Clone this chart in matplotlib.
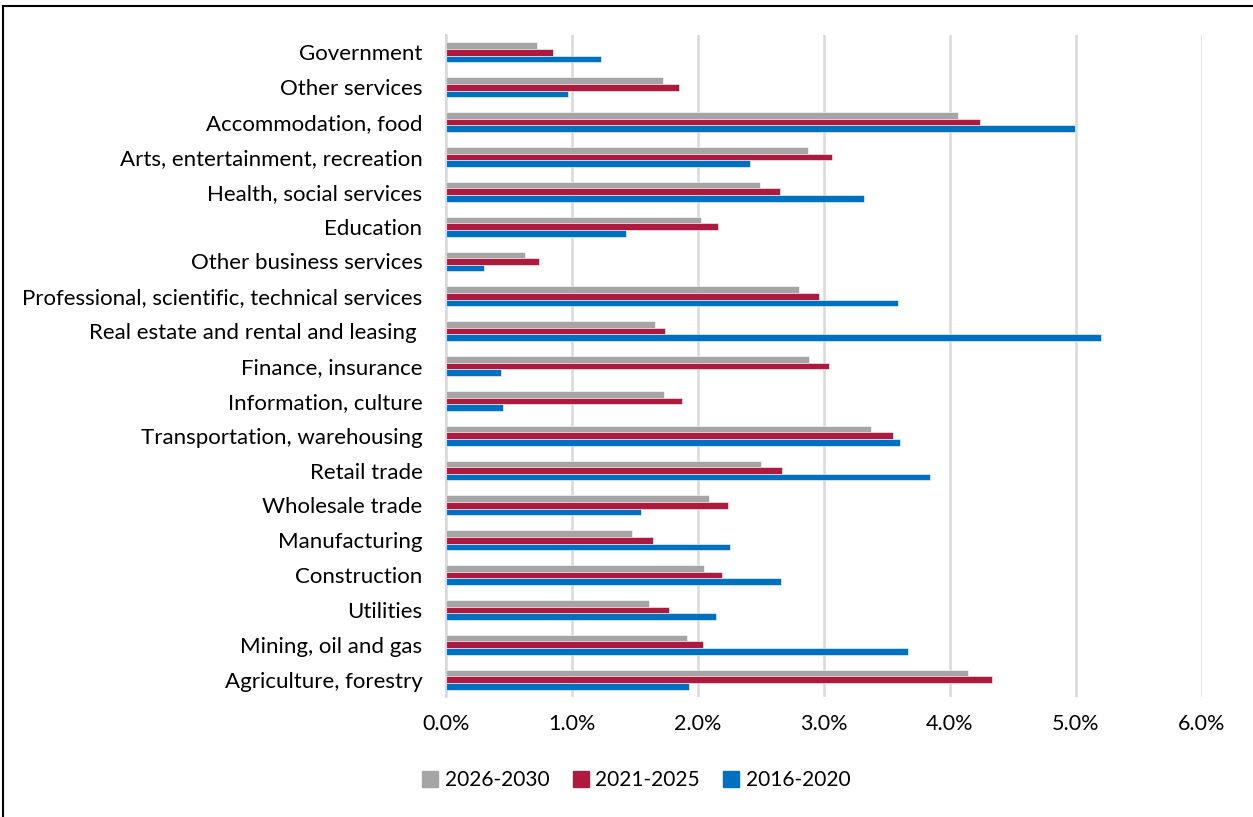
import numpy as np
import matplotlib
matplotlib.use('Agg')
import matplotlib.pyplot as plt
from matplotlib.lines import Line2D
from matplotlib.ticker import FuncFormatter

plt.rcParams['font.family'] = ['Lato', 'DejaVu Sans']

# industries, top of chart first
industries = ['Government', 'Other services', 'Accommodation, food',
              'Arts, entertainment, recreation', 'Health, social services',
              'Education', 'Other business services',
              'Professional, scientific, technical services',
              'Real estate and rental and leasing ', 'Finance, insurance',
              'Information, culture', 'Transportation, warehousing',
              'Retail trade', 'Wholesale trade', 'Manufacturing',
              'Construction', 'Utilities', 'Mining, oil and gas',
              'Agriculture, forestry']

# average annual growth, percent
g2026_2030 = [0.72, 1.72, 4.06, 2.87, 2.49, 2.02, 0.63, 2.80, 1.66, 2.88,
              1.73, 3.37, 2.50, 2.09, 1.48, 2.05, 1.61, 1.91, 4.14]
g2021_2025 = [0.85, 1.85, 4.24, 3.06, 2.65, 2.16, 0.74, 2.96, 1.74, 3.04,
              1.87, 3.55, 2.67, 2.24, 1.64, 2.19, 1.77, 2.04, 4.33]
g2016_2020 = [1.23, 0.97, 4.99, 2.41, 3.32, 1.43, 0.30, 3.59, 5.20, 0.44,
              0.45, 3.60, 3.84, 1.55, 2.25, 2.66, 2.14, 3.67, 1.93]

c_gray = '#a5a5a5'
c_red = '#ad1a3e'
c_blue = '#0070c0'

fig = plt.figure(figsize=(12.53, 8.17), dpi=100)
ax = fig.add_axes([446/1253, 1-697/817, 756/1253, 662/817])

n = len(industries)
y = np.arange(n)[::-1]
h = 0.19

ax.barh(y + h, g2026_2030, height=h, color=c_gray, edgecolor='white', linewidth=0.4, zorder=3)
ax.barh(y, g2021_2025, height=h, color=c_red, edgecolor='white', linewidth=0.4, zorder=3)
ax.barh(y - h, g2016_2020, height=h, color=c_blue, edgecolor='white', linewidth=0.4, zorder=3)

ax.set_xlim(0, 6)
ax.set_ylim(-0.5, n - 0.5)
ax.set_xticks(np.arange(0, 7, 1))
ax.xaxis.set_major_formatter(FuncFormatter(lambda v, p: f'{v:.1f}%'))
ax.set_yticks(y)
ax.set_yticklabels(industries)
ax.tick_params(axis='both', length=0, labelsize=15.5, colors='black')
ax.tick_params(axis='y', labelsize=16, pad=17)
ax.tick_params(axis='x', pad=12)

ax.grid(axis='x', color='#d9d9d9', linewidth=1.8, zorder=0)
for s in ['top', 'right', 'bottom']:
    ax.spines[s].set_visible(False)
ax.spines['left'].set_color('#d9d9d9')
ax.spines['left'].set_linewidth(1.5)
ax.spines['left'].set_zorder(4)

handles = [Line2D([], [], marker='s', linestyle='none', markersize=11, color=c)
           for c in (c_gray, c_red, c_blue)]
fig.legend(handles, ['2026-2030', '2021-2025', '2016-2020'], loc='center',
           bbox_to_anchor=(635/1253, 1-780/817), ncol=3, frameon=False,
           fontsize=15, handletextpad=0.2, columnspacing=1.0, handlelength=1.0)

# outer frame
fig.add_artist(Line2D([3/1253, 3/1253], [0, 1-6/817], color='black', lw=1.5))
fig.add_artist(Line2D([3/1253, 1], [1-6/817, 1-6/817], color='black', lw=1.5))

fig.savefig('out.png', dpi=100)
